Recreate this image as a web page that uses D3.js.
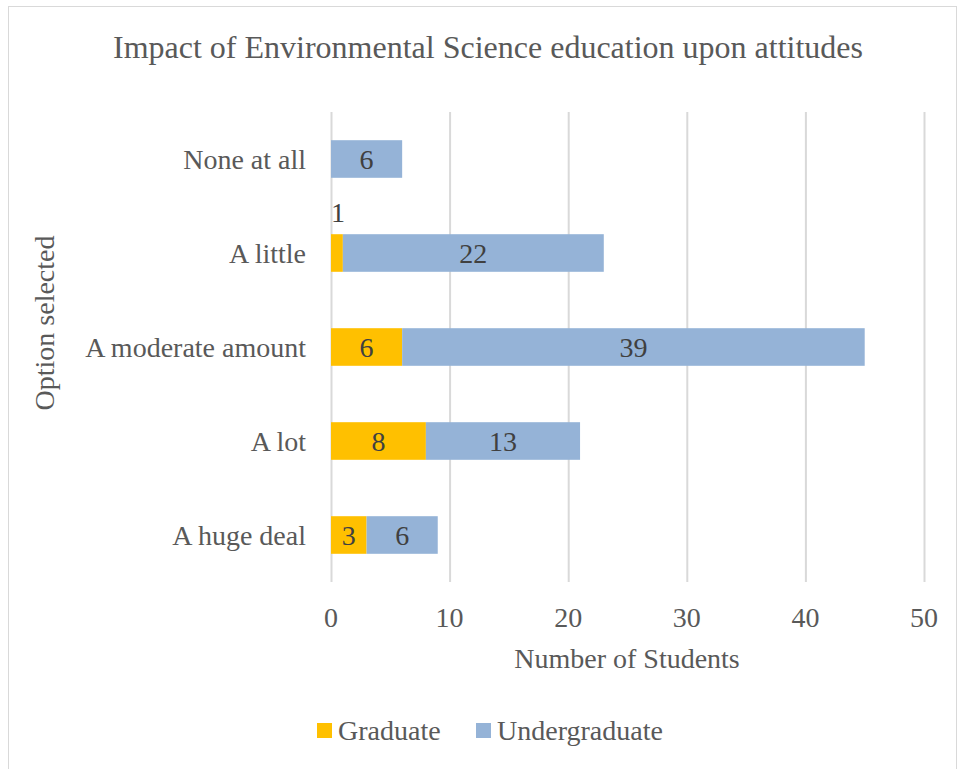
<!DOCTYPE html>
<html>
<head>
<meta charset="utf-8">
<script src="https://cdn.jsdelivr.net/npm/d3@7"></script>
<style>
  body { margin: 0; background: #fff; }
  svg { font-family: "Liberation Serif", "Times New Roman", serif; }
</style>
</head>
<body>
<script>
// Chart data
const categories = ["None at all", "A little", "A moderate amount", "A lot", "A huge deal"];
const graduate = [0, 1, 6, 8, 3];
const undergraduate = [6, 22, 39, 13, 6];
const seriesNames = ["Graduate", "Undergraduate"];
const xTicks = [0, 10, 20, 30, 40, 50];

const width = 958;
const height = 769;
const marginLeft = 331;
const marginRight = 34;
const marginTop = 112;
const marginBottom = 187;

const colors = {Graduate: "#FFC000", Undergraduate: "#95B3D7"};

const svg = d3.select("body").append("svg")
    .attr("width", width)
    .attr("height", height)
    .attr("viewBox", [0, 0, width, height]);

// chart area border
svg.append("rect")
    .attr("x", 8.5).attr("y", 6.5)
    .attr("width", 948).attr("height", 800)
    .attr("fill", "#fff")
    .attr("stroke", "#D9D9D9");

const x = d3.scaleLinear()
    .domain([0, 50])
    .range([marginLeft, width - marginRight]);

const y = d3.scaleBand()
    .domain(categories)
    .range([marginTop, height - marginBottom])
    .paddingInner(0.6)
    .paddingOuter(0.3);

// Gridlines
svg.append("g")
    .selectAll("line")
    .data(xTicks)
    .join("line")
    .attr("x1", d => x(d) + 0.5)
    .attr("x2", d => x(d) + 0.5)
    .attr("y1", marginTop)
    .attr("y2", height - marginBottom)
    .attr("stroke", "#D9D9D9")
    .attr("stroke-width", 2);

// stacked data
const rows = categories.map((c, i) => ({category: c, Graduate: graduate[i], Undergraduate: undergraduate[i]}));
const stack = d3.stack().keys(seriesNames)(rows);

const layer = svg.append("g")
    .selectAll("g")
    .data(stack)
    .join("g")
    .attr("fill", d => colors[d.key]);

layer.selectAll("rect")
    .data(d => d)
    .join("rect")
    .attr("x", d => x(d[0]))
    .attr("y", d => y(d.data.category))
    .attr("width", d => x(d[1]) - x(d[0]))
    .attr("height", y.bandwidth());

// Data labels (small segments get their label above the bar)
layer.selectAll("text")
    .data(d => d.filter(v => v[1] - v[0] > 0))
    .join("text")
    .attr("x", d => (d[1] - d[0]) < 2 ? x(d[0]) + 7 : (x(d[0]) + x(d[1])) / 2)
    .attr("y", d => (d[1] - d[0]) < 2 ? y(d.data.category) - 22 : y(d.data.category) + y.bandwidth() / 2)
    .attr("dy", "0.35em")
    .attr("text-anchor", "middle")
    .attr("fill", "#404040")
    .attr("font-size", "28px")
    .text(d => d[1] - d[0]);

// Category labels
svg.append("g")
    .selectAll("text")
    .data(categories)
    .join("text")
    .attr("x", marginLeft - 25)
    .attr("y", d => y(d) + y.bandwidth() / 2)
    .attr("dy", "0.35em")
    .attr("text-anchor", "end")
    .attr("fill", "#595959")
    .attr("font-size", "28px")
    .text(d => d);

// X tick labels
svg.append("g")
    .selectAll("text")
    .data(xTicks)
    .join("text")
    .attr("x", d => x(d))
    .attr("y", 617)
    .attr("dy", "0.35em")
    .attr("text-anchor", "middle")
    .attr("fill", "#595959")
    .attr("font-size", "28px")
    .text(d => d);

// Axis titles
svg.append("text")
    .attr("x", 627)
    .attr("y", 658)
    .attr("dy", "0.35em")
    .attr("text-anchor", "middle")
    .attr("fill", "#595959")
    .attr("font-size", "28px")
    .text("Number of Students");

svg.append("text")
    .attr("transform", "translate(44,323) rotate(-90)")
    .attr("dy", "0.35em")
    .attr("text-anchor", "middle")
    .attr("fill", "#595959")
    .attr("font-size", "28px")
    .text("Option selected");

// Title
svg.append("text")
    .attr("x", 488)
    .attr("y", 47)
    .attr("dy", "0.35em")
    .attr("text-anchor", "middle")
    .attr("fill", "#595959")
    .attr("font-size", "32px")
    .text("Impact of Environmental Science education upon attitudes");

// Legend
const legendX = [317, 476];
const legend = svg.append("g")
    .selectAll("g")
    .data(seriesNames)
    .join("g")
    .attr("transform", (d, i) => `translate(${legendX[i]},730)`);

legend.append("rect")
    .attr("y", -7)
    .attr("width", 15)
    .attr("height", 15)
    .attr("fill", d => colors[d]);

legend.append("text")
    .attr("x", 21)
    .attr("dy", "0.35em")
    .attr("fill", "#595959")
    .attr("font-size", "28px")
    .text(d => d);
</script>
</body>
</html>
